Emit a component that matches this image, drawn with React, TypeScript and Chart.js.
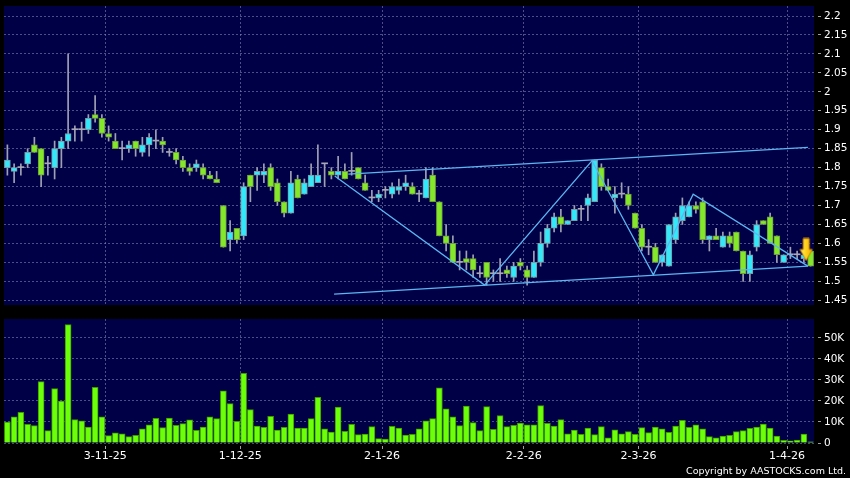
import React, { useEffect, useRef } from "react";
import { Chart, registerables } from "chart.js";

Chart.register(...registerables);

// ---------- DATA ----------
const opens = [
  1.80, 1.79, 1.80, 1.81, 1.86, 1.85, 1.81, 1.80, 1.85, 1.87,
  1.90, 1.90, 1.90, 1.94, 1.93, 1.89, 1.87, 1.85, 1.85, 1.87,
  1.84, 1.86, 1.87, 1.87, 1.84, 1.84, 1.82, 1.80, 1.80, 1.80,
  1.78, 1.77, 1.70, 1.61, 1.64, 1.62, 1.78, 1.78, 1.78, 1.80,
  1.76, 1.71, 1.68, 1.77, 1.73, 1.75, 1.76, 1.81, 1.79, 1.78,
  1.79, 1.79, 1.80, 1.76, 1.72, 1.72, 1.74, 1.73, 1.74, 1.75,
  1.75, 1.73, 1.72, 1.78, 1.71, 1.62, 1.60, 1.55, 1.56, 1.56,
  1.52, 1.55, 1.52, 1.52, 1.53, 1.51, 1.55, 1.53, 1.51, 1.55,
  1.60, 1.64, 1.67, 1.65, 1.66, 1.69, 1.70, 1.71, 1.80, 1.75,
  1.72, 1.73, 1.73, 1.68, 1.64, 1.59, 1.59, 1.55, 1.54, 1.61,
  1.66, 1.67, 1.70, 1.71, 1.61, 1.62, 1.59, 1.62, 1.63, 1.58,
  1.52, 1.59, 1.66, 1.67, 1.62, 1.55, 1.57, 1.57, 1.56, 1.58,
];
const highs = [
  1.86, 1.81, 1.81, 1.85, 1.88, 1.85, 1.83, 1.87, 1.88, 2.10,
  1.91, 1.92, 1.94, 1.99, 1.94, 1.91, 1.89, 1.87, 1.87, 1.87,
  1.88, 1.89, 1.90, 1.88, 1.85, 1.85, 1.83, 1.81, 1.82, 1.81,
  1.79, 1.79, 1.70, 1.66, 1.64, 1.76, 1.78, 1.80, 1.81, 1.81,
  1.77, 1.71, 1.79, 1.78, 1.77, 1.81, 1.86, 1.81, 1.80, 1.83,
  1.81, 1.84, 1.80, 1.78, 1.74, 1.74, 1.75, 1.76, 1.77, 1.78,
  1.76, 1.74, 1.80, 1.80, 1.71, 1.65, 1.62, 1.58, 1.58, 1.57,
  1.54, 1.55, 1.53, 1.56, 1.54, 1.55, 1.56, 1.54, 1.58, 1.63,
  1.65, 1.68, 1.69, 1.66, 1.70, 1.70, 1.73, 1.82, 1.81, 1.77,
  1.75, 1.76, 1.75, 1.68, 1.65, 1.61, 1.60, 1.57, 1.65, 1.68,
  1.72, 1.71, 1.71, 1.72, 1.62, 1.64, 1.63, 1.63, 1.63, 1.58,
  1.58, 1.66, 1.66, 1.68, 1.62, 1.57, 1.59, 1.58, 1.58, 1.58,
];
const lows = [
  1.78, 1.76, 1.78, 1.80, 1.84, 1.75, 1.78, 1.77, 1.80, 1.85,
  1.87, 1.87, 1.89, 1.92, 1.88, 1.87, 1.85, 1.82, 1.84, 1.83,
  1.83, 1.83, 1.85, 1.84, 1.83, 1.81, 1.79, 1.78, 1.79, 1.77,
  1.77, 1.76, 1.59, 1.58, 1.60, 1.61, 1.71, 1.74, 1.76, 1.74,
  1.70, 1.67, 1.68, 1.72, 1.73, 1.75, 1.76, 1.75, 1.77, 1.77,
  1.77, 1.78, 1.77, 1.74, 1.71, 1.71, 1.72, 1.72, 1.73, 1.74,
  1.73, 1.71, 1.72, 1.71, 1.62, 1.58, 1.55, 1.53, 1.53, 1.51,
  1.51, 1.49, 1.50, 1.50, 1.51, 1.50, 1.53, 1.49, 1.51, 1.54,
  1.59, 1.63, 1.63, 1.65, 1.66, 1.66, 1.66, 1.71, 1.74, 1.74,
  1.68, 1.72, 1.69, 1.64, 1.58, 1.57, 1.55, 1.54, 1.54, 1.60,
  1.65, 1.67, 1.68, 1.60, 1.58, 1.61, 1.59, 1.59, 1.58, 1.50,
  1.50, 1.58, 1.65, 1.60, 1.55, 1.55, 1.56, 1.56, 1.55, 1.54,
];
const closes = [
  1.82, 1.80, 1.80, 1.84, 1.84, 1.78, 1.81, 1.85, 1.87, 1.89,
  1.90, 1.90, 1.93, 1.93, 1.89, 1.88, 1.85, 1.85, 1.86, 1.85,
  1.86, 1.88, 1.87, 1.86, 1.84, 1.82, 1.80, 1.79, 1.81, 1.78,
  1.77, 1.76, 1.59, 1.63, 1.61, 1.75, 1.75, 1.79, 1.79, 1.75,
  1.71, 1.68, 1.76, 1.72, 1.76, 1.78, 1.78, 1.81, 1.78, 1.79,
  1.77, 1.79, 1.77, 1.74, 1.72, 1.73, 1.74, 1.75, 1.75, 1.76,
  1.73, 1.73, 1.77, 1.71, 1.62, 1.60, 1.55, 1.55, 1.55, 1.53,
  1.52, 1.51, 1.52, 1.52, 1.52, 1.54, 1.54, 1.51, 1.55, 1.60,
  1.64, 1.67, 1.65, 1.66, 1.69, 1.69, 1.72, 1.82, 1.75, 1.74,
  1.73, 1.73, 1.70, 1.64, 1.59, 1.59, 1.55, 1.57, 1.65, 1.67,
  1.70, 1.70, 1.69, 1.61, 1.62, 1.61, 1.62, 1.60, 1.58, 1.52,
  1.57, 1.65, 1.65, 1.60, 1.57, 1.57, 1.57, 1.57, 1.57, 1.54,
];
const volumes = [
  10000, 12400, 14600, 8900, 8300, 29200, 5900, 25900, 20000, 56300,
  11100, 10500, 7600, 26500, 12400, 3500, 4800, 4400, 3000, 3700,
  6800, 8700, 11700, 7300, 11900, 8400, 9200, 11000, 6000, 7600,
  12500, 11600, 24800, 18700, 10300, 33200, 15900, 8100, 7500, 12700,
  6200, 7500, 13800, 7100, 7100, 11600, 21700, 6800, 5200, 17100,
  5600, 8900, 4000, 4300, 7800, 2100, 1900, 7900, 7100, 3800,
  4100, 6800, 10600, 11600, 26300, 16300, 12400, 8300, 17600, 9700,
  5900, 17300, 6500, 13000, 7800, 8400, 9500, 8600, 8600, 17800,
  9400, 8100, 11100, 4400, 6200, 4100, 7100, 4000, 7800, 2500,
  6300, 4400, 5400, 4100, 7300, 4900, 7600, 6800, 5100, 8100,
  10800, 7500, 8700, 6800, 3000, 2500, 3300, 3700, 5400, 5900,
  7000, 7600, 9000, 7100, 3300, 1300, 1000, 1400, 4300, 600,
];

const priceTicks = [1.45, 1.5, 1.55, 1.6, 1.65, 1.7, 1.75, 1.8, 1.85, 1.9, 1.95, 2, 2.05, 2.1, 2.15, 2.2];
const volumeTicks = [0, 10000, 20000, 30000, 40000, 50000];
const xTickPositions = [14.5, 34.5, 55.5, 76.5, 93.5, 115.5];
const xTickLabels = ["3-11-25", "1-12-25", "2-1-26", "2-2-26", "2-3-26", "1-4-26"];

// user-drawn trend lines (x = session index, y = price)
const channelUpper = [{ x: 50.5, y: 1.783 }, { x: 118.6, y: 1.8535 }];
const channelLower = [{ x: 48.4, y: 1.466 }, { x: 118.6, y: 1.540 }];
const zigzag = [
  { x: 48.5, y: 1.778 }, { x: 70.7, y: 1.490 }, { x: 86.6, y: 1.818 },
  { x: 95.7, y: 1.517 }, { x: 101.6, y: 1.730 }, { x: 118.6, y: 1.540 },
];
const arrowMark = [{ x: 118.35, y: 1.584 }];

// ---------- STYLE ----------
const NAVY = "#000046";
const GRID = "rgba(140,140,190,0.55)";
const TICK = "#a0a0a0";
const UP = "#33e8f8";
const UP_BORDER = "#7a9aa8";
const DOWN = "#84e82a";
const DOWN_BORDER = "#6f9a3c";
const DOJI = "#a8a8b8";
const WICK = "#a0a0b4";
const TREND = "#5cb6f2";
const VOL = "#6cff0a";
const VOL_BORDER = "#3f9a00";
const FONT = "DejaVu Sans";

const N = closes.length;
const XMIN = -0.5;
const XMAX = N - 0.5;
const PMIN = 1.4375;
const PMAX = 2.2264;
const VMAX = 59000;

const plotBg = {
  id: "plotBg",
  beforeDraw(chart: any) {
    const { ctx, chartArea: a } = chart;
    ctx.save();
    ctx.fillStyle = NAVY;
    ctx.fillRect(a.left, a.top, a.right - a.left, a.bottom - a.top);
    ctx.restore();
  },
};

function makeArrow() {
  const c = document.createElement("canvas");
  c.width = 14;
  c.height = 24;
  const g = c.getContext("2d")!;
  g.beginPath();
  g.moveTo(4, 1);
  g.lineTo(10, 1);
  g.lineTo(10, 12);
  g.lineTo(13.2, 12);
  g.lineTo(7, 23);
  g.lineTo(0.8, 12);
  g.lineTo(4, 12);
  g.closePath();
  const grad = g.createLinearGradient(0, 0, 14, 0);
  grad.addColorStop(0, "#fff27a");
  grad.addColorStop(0.5, "#ffd21a");
  grad.addColorStop(1, "#f0a000");
  g.fillStyle = grad;
  g.fill();
  g.strokeStyle = "#c98200";
  g.lineWidth = 1;
  g.stroke();
  return c;
}

const idx = Array.from({ length: N }, (_, i) => i);

function xScaleBase(showLabels: boolean, height: number) {
  return {
    type: "linear",
    min: XMIN,
    max: XMAX,
    offset: false,
    afterBuildTicks: (s: any) => {
      s.ticks = xTickPositions.map((v) => ({ value: v }));
    },
    afterFit: (s: any) => {
      s.height = height;
      s.paddingLeft = 0;
      s.paddingRight = 0;
    },
    ticks: {
      display: showLabels,
      autoSkip: false,
      maxRotation: 0,
      color: "#ffffff",
      font: { family: FONT, size: 11 },
      padding: 1,
      callback: (_v: any, i: number) => xTickLabels[i],
    },
    grid: {
      offset: false,
      color: GRID,
      lineWidth: 1,
      drawTicks: showLabels,
      tickLength: 6,
      tickColor: TICK,
      tickBorderDash: [0, 3, 3],
    },
    border: { display: false, dash: [2, 2] },
  };
}

function yScaleBase(min: number, max: number, ticks: number[], fmt: (v: number) => string) {
  return {
    position: "right",
    min,
    max,
    afterBuildTicks: (s: any) => {
      s.ticks = ticks.map((v) => ({ value: v }));
    },
    afterFit: (s: any) => {
      s.width = 36;
      s.paddingTop = 0;
      s.paddingBottom = 0;
    },
    ticks: {
      color: "#ffffff",
      font: { family: FONT, size: 10.5 },
      padding: 3,
      callback: (v: any) => fmt(Number(v)),
    },
    grid: {
      color: GRID,
      lineWidth: 1,
      tickLength: 7,
      tickColor: TICK,
      tickBorderDash: [0, 4, 3],
    },
    border: { display: false, dash: [2, 2] },
  };
}

export default function App() {
  const priceRef = useRef<HTMLCanvasElement>(null);
  const volRef = useRef<HTMLCanvasElement>(null);

  useEffect(() => {
    const arrow = makeArrow();
    const candleColor = (i: number) =>
      closes[i] > opens[i] ? UP : closes[i] < opens[i] ? DOWN : DOJI;
    const candleBorder = (i: number) =>
      closes[i] > opens[i] ? UP_BORDER : closes[i] < opens[i] ? DOWN_BORDER : DOJI;

    const priceChart = new Chart(priceRef.current!, {
      type: "bar",
      data: {
        datasets: [
          {
            type: "line",
            data: zigzag,
            borderColor: TREND,
            borderWidth: 1.3,
            pointRadius: 0,
            order: 0,
          } as any,
          {
            type: "line",
            data: channelUpper,
            borderColor: TREND,
            borderWidth: 1.3,
            pointRadius: 0,
            order: 0,
          } as any,
          {
            type: "line",
            data: channelLower,
            borderColor: TREND,
            borderWidth: 1.3,
            pointRadius: 0,
            order: 0,
          } as any,
          {
            type: "scatter",
            data: arrowMark,
            pointStyle: arrow,
            pointRadius: 12,
            order: -1,
          } as any,
          {
            label: "body",
            data: idx.map((i) => ({ x: i, y: [opens[i], closes[i]] })),
            backgroundColor: (c: any) => candleColor(c.dataIndex),
            borderColor: (c: any) => candleBorder(c.dataIndex),
            borderWidth: (c: any) => (opens[c.dataIndex] === closes[c.dataIndex] ? 0 : 1),
            borderSkipped: false,
            barThickness: 6,
            minBarLength: 1,
            grouped: false,
            order: 1,
          } as any,
          {
            label: "wick",
            data: idx.map((i) => ({ x: i, y: [lows[i], highs[i]] })),
            backgroundColor: WICK,
            borderWidth: 0,
            barThickness: 1,
            grouped: false,
            order: 2,
          } as any,
        ],
      },
      options: {
        responsive: false,
        animation: false,
        devicePixelRatio: 1,
        events: [],
        layout: { autoPadding: false, padding: { left: 4, top: 6, right: 0, bottom: 0 } },
        plugins: { legend: { display: false }, tooltip: { enabled: false } },
        scales: {
          x: xScaleBase(false, 5) as any,
          y: yScaleBase(PMIN, PMAX, priceTicks, (v) => String(+v.toFixed(2))) as any,
        },
      },
      plugins: [plotBg],
    });

    const volChart = new Chart(volRef.current!, {
      type: "bar",
      data: {
        datasets: [
          {
            data: idx.map((i) => ({ x: i, y: volumes[i] })),
            backgroundColor: VOL,
            borderColor: VOL_BORDER,
            borderWidth: 1,
            borderSkipped: "start",
            barThickness: 6,
          } as any,
        ],
      },
      options: {
        responsive: false,
        animation: false,
        devicePixelRatio: 1,
        events: [],
        layout: { autoPadding: false, padding: { left: 4, top: 9, right: 0, bottom: 0 } },
        plugins: { legend: { display: false }, tooltip: { enabled: false } },
        scales: {
          x: xScaleBase(true, 35) as any,
          y: yScaleBase(0, VMAX, volumeTicks, (v) => (v === 0 ? "0" : v / 1000 + "K")) as any,
        },
      },
      plugins: [plotBg],
    });

    return () => {
      priceChart.destroy();
      volChart.destroy();
    };
  }, []);

  return (
    <div
      style={{
        position: "absolute",
        left: 0,
        top: 0,
        width: 850,
        height: 478,
        background: "#000",
        overflow: "hidden",
      }}
    >
      <canvas
        ref={priceRef}
        width={850}
        height={310}
        style={{ position: "absolute", left: 0, top: 0, width: 850, height: 310 }}
      />
      <canvas
        ref={volRef}
        width={850}
        height={168}
        style={{ position: "absolute", left: 0, top: 310, width: 850, height: 168 }}
      />
      <div
        style={{
          position: "absolute",
          right: 4,
          top: 465,
          fontFamily: FONT,
          fontSize: 9.5,
          lineHeight: "12px",
          color: "#ffffff",
          whiteSpace: "nowrap",
        }}
      >
        Copyright by AASTOCKS.com Ltd.
      </div>
    </div>
  );
}
